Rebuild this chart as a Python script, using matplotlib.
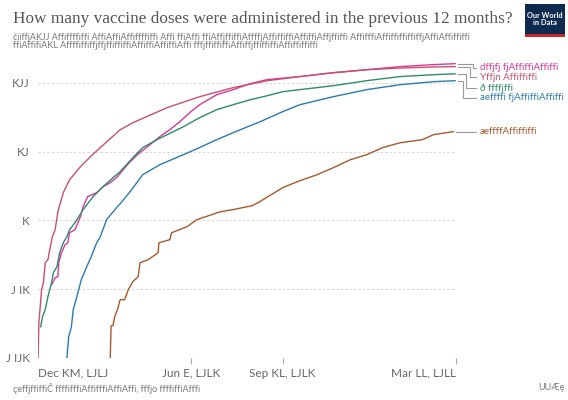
import matplotlib
matplotlib.use("Agg")
import matplotlib.pyplot as plt
from matplotlib.patches import Rectangle
from matplotlib.ticker import NullLocator

plt.rcParams['font.family'] = ['Lato', 'DejaVu Sans']

# x = days since the first axis date, y = doses per 100 people (log axis)
magenta_days = [15, 19, 22, 23, 26, 30, 33, 35, 41, 47, 50, 55, 65, 72, 80, 88, 99, 110,
                121, 135, 146, 157, 168, 179, 198, 216, 235, 254, 290, 327, 364, 401, 438, 462]
magenta_vals = [0.116, 0.147, 0.152, 0.243, 0.340, 0.445, 0.475, 0.664, 0.734, 1.14, 1.59,
                2.22, 2.54, 3.10, 3.55, 4.34, 6.49, 9.06, 11.8, 16.6, 20.9, 27.3, 37.0, 48.3,
                67.6, 80.0, 97.7, 112, 124, 141, 156, 173, 185, 191]

crimson_days = [0, 1, 4, 6, 8, 11, 13, 16, 19, 22, 28, 35, 47, 58, 69, 80, 91, 105, 143,
                179, 216, 254, 290, 327, 364, 401, 438, 462]
crimson_vals = [0.01, 0.0326, 0.0986, 0.124, 0.243, 0.269, 0.376, 0.581, 0.734, 1.34, 2.54,
                3.92, 6.06, 8.47, 11.5, 15.5, 20.9, 26.4, 43.8, 63.2, 85.5, 108, 124, 141,
                156, 165, 171, 173]

green_days = [3, 5, 8, 11, 15, 17, 21, 24, 28, 32, 35, 41, 50, 61, 72, 83, 91, 105, 116,
              132, 143, 161, 179, 198, 216, 235, 254, 271, 290, 327, 364, 401, 438, 462]
green_vals = [0.0285, 0.040, 0.0504, 0.078, 0.124, 0.174, 0.213, 0.340, 0.475, 0.581, 0.734,
              0.929, 1.44, 2.22, 3.10, 4.19, 5.13, 8.18, 11.5, 15.0, 17.7, 23.1, 31.3, 40.9,
              48.3, 57.1, 65.3, 74.7, 80.0, 91.4, 108, 124, 132, 136]

blue_days = [32, 34, 37, 39, 43, 48, 54, 59, 65, 69, 76, 88, 91, 102, 116, 135, 161, 179,
             198, 224, 246, 271, 290, 327, 364, 401, 438, 462]
blue_vals = [0.01, 0.0204, 0.0285, 0.0504, 0.078, 0.138, 0.213, 0.298, 0.475, 0.581, 1.03,
             1.59, 1.75, 2.62, 4.63, 6.49, 9.06, 11.5, 15.0, 20.9, 27.3, 38.3, 48.3, 63.2,
             80.0, 94.4, 104.5, 108]

brown_days = [80, 81, 83, 85, 88, 91, 96, 100, 105, 111, 113, 122, 133, 134, 146, 148, 165,
              176, 202, 216, 237, 246, 249, 271, 290, 309, 327, 346, 364, 382, 401, 426, 438, 460]
brown_vals = [0.01, 0.0295, 0.0295, 0.040, 0.0504, 0.0705, 0.0705, 0.0986, 0.129, 0.152,
              0.243, 0.269, 0.340, 0.475, 0.526, 0.664, 0.813, 1.03, 1.34, 1.44, 1.64, 1.88,
              2.00, 3.00, 3.79, 4.63, 5.86, 7.66, 9.06, 11.5, 13.5, 15.0, 17.7, 19.6]

names = ["dffjfj fjAffiffiAffiffi", "Yffjn Affiffiffi", "ð ffffjffi",
         "aeffffi fjAffiffiAffiffi", "aeffffAffiffiffi"]
colors = ["#d9369a", "#c8506e", "#2f8a6c", "#2a7cae", "#a9582b"]

yticks = [0.01, 0.1, 1, 10, 100]
ytick_labels = ["J IJK", "J IK", "K", "KJ", "KJJ"]
xticks = [0, 170, 271, 463]
xtick_labels = ["Dec KM, LJLJ", "Jun E, LJLK", "Sep KL, LJLK", "Mar LL, LJLL"]

fig = plt.figure(figsize=(5.68, 4.0), dpi=100)
W, H = 568, 400
ax = fig.add_axes([38 / W, 1 - 358 / H, (456 - 38) / W, (358 - 60) / H])

series = [(magenta_days, magenta_vals), (crimson_days, crimson_vals),
          (green_days, green_vals), (blue_days, blue_vals), (brown_days, brown_vals)]
for (d, v), c in zip(series, colors):
    ax.plot(d, v, color=c, lw=1.0, solid_joinstyle='round')

ax.set_yscale('log')
ax.set_ylim(0.01, 216)
ax.set_xlim(0, 463)
ax.set_yticks(yticks)
ax.set_yticklabels(ytick_labels)
ax.yaxis.set_minor_locator(NullLocator())
ax.set_xticks(xticks)
ax.set_xticklabels(xtick_labels)
for s in ax.spines.values():
    s.set_visible(False)
ax.yaxis.grid(True, color='#d6d6d6', lw=0.8, ls=(0, (2, 2)))
ax.tick_params(axis='y', length=0, pad=6, labelsize=8.5, labelcolor='#666666')
ax.tick_params(axis='x', length=4, width=0.8, color='#aaaaaa', pad=3,
               labelsize=8.5, labelcolor='#666666')
ticks = ax.xaxis.get_major_ticks()
ticks[0].tick1line.set_visible(False)
labs = ax.get_xticklabels()
labs[0].set_ha('left')
labs[-1].set_ha('right')

# labels at the line ends with elbow connectors
label_y = [68, 77, 88, 98, 131]
elbow_x = [473, 470, 466, 463, None]
fig.canvas.draw()
for (d, v), c, name, ly, ex in zip(series, colors, names, label_y, elbow_x):
    px, py = ax.transData.transform((d[-1], v[-1]))
    py = H - py
    if ex is None:
        xs, ys = [px + 3, 476], [py, py]
    else:
        xs, ys = [px + 3, ex, ex, 476], [py, py, ly, ly]
    fig.add_artist(plt.Line2D([x / W for x in xs], [1 - y / H for y in ys],
                              color='#9a9a9a', lw=0.8))
    fig.text(480 / W, 1 - ly / H, name, color=c, fontsize=7, va='center', ha='left')

fig.text(13 / W, 1 - 19 / H, "How many vaccine doses were administered in the previous 12 months?",
         family=['Liberation Serif', 'DejaVu Serif'], fontsize=12.4, color='#555555',
         va='center', ha='left')
fig.text(13 / W, 1 - 37 / H,
         "čiiffjAKJJ Affiffffiffi AffiAffiAffiffffiffi Affi ffiAffi ffiAffjffiffiAffffjAffiffiffiAffi"
         "ffiAffjffiffi AffifffiAffiffiffiffiffjAffiAffiffiffi",
         fontsize=6.5, color='#777777', va='center', ha='left')
fig.text(13 / W, 1 - 46 / H,
         "ffiAffifiAKL AffffiffiffjffjffiffiffiAffiffiAffiffiAffi fffjffiffiffiAffiffjffiffiffi"
         "Affiffiffiffi",
         fontsize=6.5, color='#777777', va='center', ha='left')
fig.text(13 / W, 1 - 388 / H, "çeffjffiffiĈ ffffifffiAffifffiAffiAffi, fffjo ffffiffiAfffi",
         fontsize=6.5, color='#777777', va='center', ha='left')
fig.text(565 / W, 1 - 388 / H, "UUÆę", fontsize=6.5, color='#777777', va='center', ha='right')

# logo
fig.add_artist(Rectangle((525 / W, 1 - 36 / H), 40 / W, 32 / H, transform=fig.transFigure,
                         facecolor='#0f2a4f', edgecolor='none'))
fig.add_artist(Rectangle((525 / W, 1 - 37 / H), 40 / W, 3 / H, transform=fig.transFigure,
                         facecolor='#c8282c', edgecolor='none'))
fig.text(545 / W, 1 - 19 / H, "Our World\nin Data", color='white', fontsize=5.3,
         fontweight='bold', ha='center', va='center', linespacing=1.0)

fig.savefig("out.png", dpi=100)
